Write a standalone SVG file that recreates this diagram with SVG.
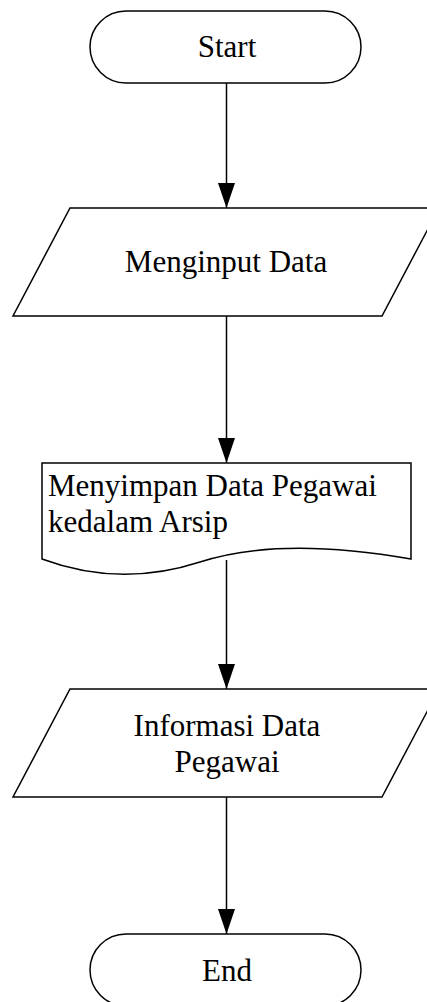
<svg xmlns="http://www.w3.org/2000/svg" width="427" height="1002" viewBox="0 0 427 1002">
<style>
.shape{fill:#fff;stroke:#000;stroke-width:1.5}
.conn{fill:none;stroke:#000;stroke-width:1.5;marker-end:url(#arr)}
text{font-family:"Liberation Serif","Times New Roman",serif;font-size:31px;fill:#000}
.c{text-anchor:middle}
</style>
<defs>
<marker id="arr" markerUnits="userSpaceOnUse" markerWidth="25" markerHeight="17" refX="25" refY="8.5" orient="auto" viewBox="0 0 25 17">
<path d="M0,0 L25,8.5 L0,17 Z" fill="#000"/>
</marker>
</defs>
<rect width="427" height="1002" fill="#fff"/>
<g id="connectors">
<path class="conn" d="M226.5,83 L226.5,208"/>
<path class="conn" d="M226.5,316 L226.5,463"/>
<path class="conn" d="M226.5,560 L226.5,689"/>
<path class="conn" d="M226.5,797 L226.5,934"/>
</g>
<g id="start">
<rect class="shape" x="90" y="11" width="271" height="72" rx="36" ry="36"/>
<text class="c" x="227" y="57">Start</text>
</g>
<g id="input">
<path class="shape" d="M70,208 L439,208 L382,316 L13,316 Z"/>
<text class="c" x="226" y="272">Menginput Data</text>
</g>
<g id="document">
<path class="shape" d="M42,463 L411,463 L411,559 Q280,536 200,562 Q120,588 42,559 Z"/>
<text x="48" y="496">Menyimpan Data Pegawai</text>
<text x="48" y="532">kedalam Arsip</text>
</g>
<g id="output">
<path class="shape" d="M70,689 L439,689 L382,797 L13,797 Z"/>
<text class="c" x="227" y="736">Informasi Data</text>
<text class="c" x="227" y="772">Pegawai</text>
</g>
<g id="end">
<rect class="shape" x="90" y="934" width="271" height="72" rx="36" ry="36"/>
<text class="c" x="227" y="981">End</text>
</g>
</svg>
